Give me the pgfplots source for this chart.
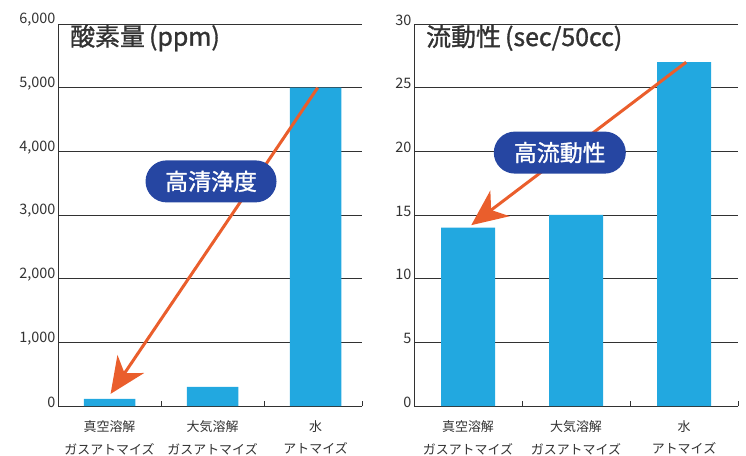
\documentclass[border=0pt]{standalone}
\usepackage{pgfplots}
\pgfplotsset{compat=1.18}
\usepackage{fontspec}
\setmainfont{Noto Sans CJK JP}
\newfontfamily\medfont[FakeBold=1.2]{Noto Sans CJK JP}
\usetikzlibrary{arrows.meta}
\definecolor{barblue}{RGB}{34,168,224}
\definecolor{boxblue}{RGB}{38,70,162}
\definecolor{arroworange}{RGB}{234,94,44}
\definecolor{txt}{RGB}{50,50,50}
\definecolor{gridc}{RGB}{50,50,50}
\pgfplotsset{
  panel/.style={
    scale only axis,
    anchor=south west,
    ymin=0,
    axis x line*=bottom,
    axis y line*=left,
    axis line style={draw=txt, line width=0.8bp},
    ymajorgrids,
    major grid style={draw=gridc, line width=0.8bp},
    tick align=inside,
    major tick length=5bp,
    tick style={draw=txt, line width=0.8bp},
    xtick style={draw=none},
    xtick={0,1,2},
    xticklabels={{真空溶解\\ガスアトマイズ},{大気溶解\\ガスアトマイズ},{水\\アトマイズ}},
    xticklabel style={align=center, text=txt, font=\fontsize{13}{23}\selectfont, inner sep=0pt, yshift=-14bp},
    yticklabel style={text=txt, font=\fontsize{14.5}{14.5}\selectfont, yshift=4bp, xshift=1bp},
    extra y tick style={grid=none},
    extra y tick labels={},
    /pgf/number format/assume math mode=true,
    scaled y ticks=false,
    clip=false,
  }
}
\begin{document}
\begin{tikzpicture}
\useasboundingbox (0,0) rectangle (746bp,456bp);
% Left panel
\begin{axis}[panel, at={(58bp,50bp)}, width=304bp, height=382bp,
  xmin=-0.5, xmax=2.45, ymax=6000,
  ytick={0,1000,...,6000},
  /pgf/number format/1000 sep={,}]
\addplot[ybar, bar width=0.5, fill=barblue, draw=none] coordinates {(0,110) (1,300) (2,5000)};
\draw[txt, line width=0.8bp] (axis cs:0.5,0) -- ([yshift=5bp]axis cs:0.5,0);
\draw[txt, line width=0.8bp] (axis cs:1.5,0) -- ([yshift=5bp]axis cs:1.5,0);
\draw[txt, line width=0.8bp] (axis cs:2.45,0) -- ([yshift=5bp]axis cs:2.45,0);
\draw[arroworange, line width=3bp, -{Stealth[length=36bp, width=32bp, inset=11bp]}] (axis cs:2.02,5000) -- (axis cs:0.01,190);
\node[fill=boxblue, rounded corners=21bp, minimum width=131bp, minimum height=42bp, inner sep=0pt, text=white, font=\fontsize{23}{23}\medfont] at (axis cs:0.985,3528) {高清浄度};
\end{axis}
\node[anchor=west, text=txt, font=\fontsize{25}{25}\medfont, inner sep=0pt] at (70bp,418bp) {酸素量\,(ppm)};
% Right panel
\begin{axis}[panel, at={(414bp,50bp)}, width=324bp, height=382bp,
  xmin=-0.5, xmax=2.5, ymax=30,
  ytick={0,5,...,30}]
\addplot[ybar, bar width=0.5, fill=barblue, draw=none] coordinates {(0,14) (1,15) (2,27)};
\draw[txt, line width=0.8bp] (axis cs:0.5,0) -- ([yshift=5bp]axis cs:0.5,0);
\draw[txt, line width=0.8bp] (axis cs:1.5,0) -- ([yshift=5bp]axis cs:1.5,0);
\draw[txt, line width=0.8bp] (axis cs:2.5,0) -- ([yshift=5bp]axis cs:2.5,0);
\draw[arroworange, line width=3bp, -{Stealth[length=36bp, width=32bp, inset=11bp]}] (axis cs:2.02,27) -- (axis cs:0.03,14.2);
\node[fill=boxblue, rounded corners=21bp, minimum width=132bp, minimum height=42bp, inner sep=0pt, text=white, font=\fontsize{23}{23}\medfont] at (axis cs:0.85,19.9) {高流動性};
\end{axis}
\node[anchor=west, text=txt, font=\fontsize{25}{25}\medfont, inner sep=0pt] at (426bp,418bp) {流動性\,(sec/50cc)};
\end{tikzpicture}
\end{document}
